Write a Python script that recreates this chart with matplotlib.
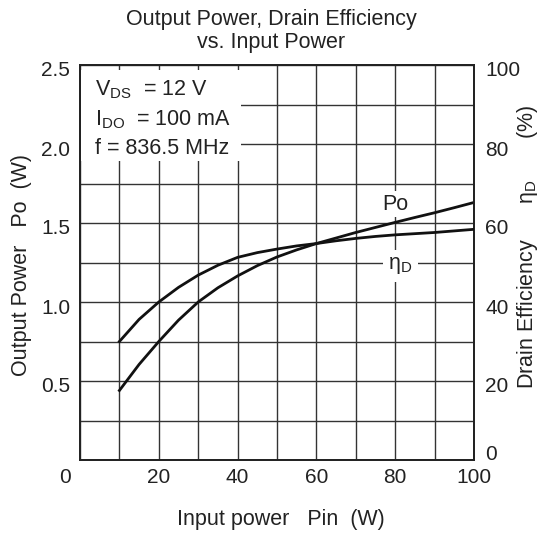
import matplotlib
matplotlib.use("Agg")
import matplotlib.pyplot as plt
import matplotlib.transforms as mtransforms
from matplotlib.patches import Rectangle
import numpy as np

plt.rcParams['font.family'] = ['Liberation Sans', 'DejaVu Sans']
plt.rcParams['mathtext.fontset'] = 'custom'
plt.rcParams['mathtext.rm'] = 'Liberation Sans'
plt.rcParams['mathtext.it'] = 'Liberation Sans'
plt.rcParams['mathtext.default'] = 'regular'

# ---- data ----
pin = [10, 15, 20, 25, 30, 35, 40, 45, 50, 55, 60, 65, 70, 75, 80, 85, 90, 95, 100]
po_w = [0.44, 0.605, 0.75, 0.885, 1.0, 1.09, 1.165, 1.23, 1.285, 1.33, 1.37,
        1.405, 1.44, 1.472, 1.504, 1.535, 1.565, 1.597, 1.63]
eta_d = [30.0, 35.6, 40.0, 43.7, 46.8, 49.3, 51.3, 52.5, 53.4, 54.2, 54.8,
         55.5, 56.1, 56.6, 57.0, 57.3, 57.6, 58.0, 58.4]

x_ticks = [0, 20, 40, 60, 80, 100]
left_ticks = [0.5, 1.0, 1.5, 2.0, 2.5]
right_ticks = [0, 20, 40, 60, 80, 100]

FS = 15.5
TC = '#222222'

W, H = 547, 533
fig = plt.figure(figsize=(W / 100, H / 100), dpi=100)
ax = fig.add_axes([80 / W, 1 - 460 / H, (474 - 80) / W, (460 - 65) / H])
ax2 = ax.twinx()

ax.set_xlim(0, 100)
ax.set_ylim(0, 2.5)
ax2.set_ylim(0, 100)

ax.set_xticks(x_ticks)
ax.set_xticklabels([str(v) for v in x_ticks])
ax.set_xticks(np.arange(0, 101, 10), minor=True)
ax.set_yticks(left_ticks)
ax.set_yticklabels([f"{v:.1f}" for v in left_ticks])
ax.set_yticks(np.arange(0, 2.51, 0.25), minor=True)
ax2.set_yticks(right_ticks)
ax2.set_yticklabels([str(v) for v in right_ticks])

ax.grid(True, which='both', color='#333333', lw=1.0, zorder=0)
ax.set_axisbelow(True)
ax.tick_params(which='both', length=0, labelsize=15, colors=TC)
ax.tick_params(axis='x', pad=6)
ax.tick_params(axis='y', pad=7)
ax2.tick_params(which='both', length=0, labelsize=15, colors=TC, pad=8)

for a in (ax, ax2):
    for s in a.spines.values():
        s.set_color(TC)
        s.set_linewidth(1.3)

def shift(lbl, dx_px, dy_px):
    lbl.set_transform(lbl.get_transform() +
                      mtransforms.ScaledTranslation(dx_px / 100, -dy_px / 100, fig.dpi_scale_trans))

for lbl in ax.get_yticklabels():
    shift(lbl, 0, 4)
for i, lbl in enumerate(ax2.get_yticklabels()):
    shift(lbl, 0, 4 if i > 0 else -7)
shift(ax.get_xticklabels()[0], -15, 0)

# white box behind the test conditions
ax.add_patch(Rectangle((0.3, 1.89), 40.6, 0.58, facecolor='white', edgecolor='none', zorder=1))

# curve labels (drawn under the curves so the white boxes never hide them)
ax.text(80.0, 1.62, "Po", fontsize=FS, color=TC, ha='center', va='center',
        bbox=dict(facecolor='white', edgecolor='none', pad=2), zorder=1.5)
ax.text(81.3, 1.23, "η$_D$", fontsize=FS, color=TC, ha='center', va='center',
        bbox=dict(facecolor='white', edgecolor='none', pad=4), zorder=1.5)

ax.plot(pin, po_w, color='#111111', lw=2.0, zorder=3)
ax2.plot(pin, eta_d, color='#111111', lw=2.0, zorder=3)

ax.text(3.8, 2.31, "V$_{DS}$  = 12 V", fontsize=FS, color=TC, va='baseline', zorder=4)
ax.text(3.8, 2.115, "I$_{DO}$  = 100 mA", fontsize=FS, color=TC, va='baseline', zorder=4)
ax.text(3.8, 1.935, "f = 836.5 MHz", fontsize=FS, color=TC, va='baseline', zorder=4)

fig.text(271 / W, 1 - 31 / H, "Output Power, Drain Efficiency\nvs. Input Power",
         ha='center', va='center', fontsize=FS, color=TC, linespacing=1.1)
fig.text(281 / W, 1 - 520 / H, "Input power   Pin  (W)", ha='center', va='center',
         fontsize=FS, color=TC)
fig.text(22 / W, 1 - 265 / H, "Output Power   Po  (W)", ha='center', va='center',
         fontsize=FS, color=TC, rotation=90)
fig.text(528 / W, 1 - 247 / H, "Drain Efficiency      η$_D$       (%)", ha='center', va='center',
         fontsize=FS, color=TC, rotation=90)

fig.savefig("out.png", dpi=100)
